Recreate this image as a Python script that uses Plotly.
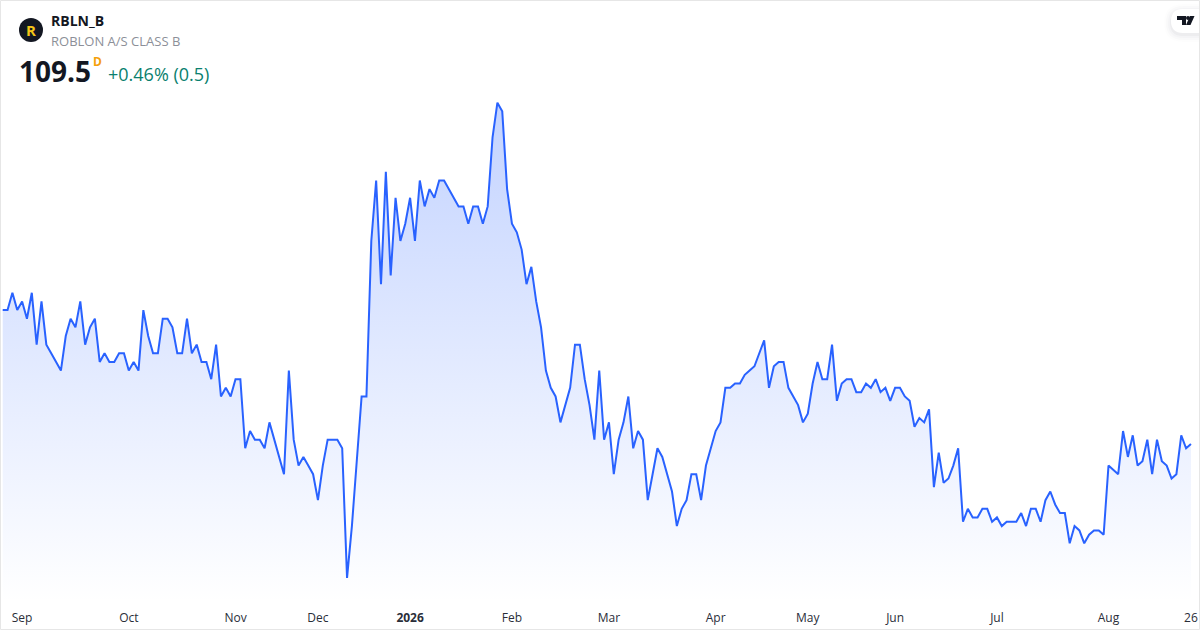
#!/usr/bin/env python3
"""RBLN_B daily close, TradingView-style mini chart."""

import plotly.graph_objects as go

W, H = 1200, 630
PLOT_H = 602  # pixels above the time-axis strip

# closes, one per trading bar, Sep 2025 to 26 Aug 2026
closes_2025_a = [125, 125, 127, 125, 126, 124, 127, 121, 126, 121, 120, 119, 118, 122, 124, 123,
                 126, 121, 123, 124, 119, 120, 119, 119, 120, 120, 118, 119, 118, 125, 122, 120,
                 120, 124, 124, 123, 120, 120, 124, 120, 121, 119, 119, 117, 121, 115, 116, 115,
                 117, 117, 109, 111, 110, 110, 109, 112, 110, 108, 106, 118, 110, 107, 108, 107,
                 106, 103, 107, 110, 110, 110, 109, 94, 100, 108, 115, 115]
closes_spike = [133, 140, 128, 141, 129, 138, 133, 135, 138, 133, 140, 137, 139, 138, 140, 140,
                139, 138, 137, 137, 135, 137, 137, 135, 137, 145, 149, 148, 139, 135, 134, 132,
                128, 130, 126, 123]
closes_spring = [118, 116, 115, 112, 114, 116, 121, 121, 117, 114, 110, 118, 110, 112, 106, 110,
                 112, 115, 109, 111, 110, 103, 106, 109, 108, 106, 104, 100, 102, 103, 106, 106,
                 103, 107, 109, 111, 112, 116, 116, 116.5, 116.5, 117.5, 118, 118.5, 120, 121.5,
                 116, 118.5, 119, 119, 116, 115, 114, 112, 113, 116.5, 119, 117, 117, 121, 114.5,
                 116.5, 117, 117]
closes_summer = [115.5, 115.5, 116.5, 116, 117, 115.5, 116, 114.5, 116, 116, 115, 114.5, 111.5,
                 112.5, 112, 113.5, 104.5, 108.5, 105, 105.5, 107, 109, 100.5, 102, 101, 101, 102,
                 102, 100.5, 101, 100, 100.5, 100.5, 100.5, 101.5, 100, 102, 102, 100.5, 103, 104,
                 102.5, 101.5, 101.5, 98, 100, 99.5, 98, 99, 99.5, 99.5, 99, 107, 106.5, 106, 111,
                 108, 110.5, 107, 107.5, 110, 106, 110, 107.5, 107, 105.5, 106, 110.5, 109, 109.5]
closes = closes_2025_a + closes_spike + closes_spring + closes_summer
bars = list(range(len(closes)))

tick_bars = [4, 26, 48, 65, 84, 105, 125, 147, 166, 184, 205, 228, 245]
tick_labels = ["Sep", "Oct", "Nov", "Dec", "<b>2026</b>", "Feb", "Mar", "Apr", "May", "Jun",
               "Jul", "Aug", "26"]

BLUE = "#2962FF"
INK = "#131722"


def px(x):
    return x / W


def py(y):
    return 1 - y / PLOT_H


def pill(x0, y0, x1, y1, r):
    """Tab stuck to the right edge, rounded on its left side."""
    return (f"M {px(x1)} {py(y0)} L {px(x0 + r)} {py(y0)} "
            f"Q {px(x0)} {py(y0)} {px(x0)} {py(y0 + r)} L {px(x0)} {py(y1 - r)} "
            f"Q {px(x0)} {py(y1)} {px(x0 + r)} {py(y1)} L {px(x1)} {py(y1)} Z")


def poly(points):
    return "M " + " L ".join(f"{px(x)} {py(y)}" for x, y in points) + " Z"


def label(x, y, text, size, color, family="Open Sans", anchor="left"):
    return dict(x=px(x), y=py(y), xref="paper", yref="paper", text=text, showarrow=False,
                xanchor=anchor, yanchor="middle", align="left",
                font=dict(family=family, size=size, color=color))


fig = go.Figure()
fig.add_trace(go.Scatter(
    x=bars, y=closes, mode="lines", line=dict(color=BLUE, width=2), fill="tozeroy",
    fillcolor="rgba(41,98,255,0.1)",
    fillgradient=dict(type="vertical", start=149, stop=91.2,
                      colorscale=[[0, "rgba(41,98,255,0.28)"], [1, "rgba(41,98,255,0)"]]),
    hoverinfo="x+y", showlegend=False))

shapes = [
    dict(type="circle", xref="paper", yref="paper", x0=px(19), x1=px(43), y0=py(42), y1=py(18),
         fillcolor="#131722", line_width=0),
]
for grow, alpha in [(7, 0.008), (5, 0.014), (3, 0.02), (1, 0.03)]:
    shapes.append(dict(type="path", xref="paper", yref="paper",
                       path=pill(1171 - grow, 9 - grow + 2, 1200, 33 + grow + 2, 12 + grow),
                       fillcolor=f"rgba(19,23,34,{alpha})", line_width=0))
shapes += [
    dict(type="path", xref="paper", yref="paper", path=pill(1171, 9, 1200, 33, 12),
         fillcolor="white", line_width=0),
    dict(type="path", xref="paper", yref="paper", fillcolor=INK, line_width=0,
         path=poly([(1177, 16), (1186, 16), (1186, 25), (1182, 25), (1182, 20), (1177, 20)])),
    dict(type="path", xref="paper", yref="paper", fillcolor=INK, line_width=0,
         path=poly([(1190, 16), (1194.5, 16), (1190.5, 25), (1186, 25)])),
    dict(type="circle", xref="paper", yref="paper", x0=px(1186), x1=px(1190), y0=py(20), y1=py(16),
         fillcolor=INK, line_width=0),
    # card outline
    dict(type="rect", xref="paper", yref="paper", x0=px(0.5), x1=px(W - 0.5), y0=py(H - 0.5),
         y1=py(0.5), line=dict(color="#E6E6E6", width=1)),
]

annotations = [
    label(31, 30, "<b>R</b>", 15, "#F5C518", anchor="center"),
    label(49, 21, "<b>RBLN_B</b>", 14, INK),
    label(49, 41, "ROBLON A/S CLASS B", 13, "#8C8F98"),
    label(17, 71, "<b>109.5</b>", 28, INK),
    label(91, 61.5, "<b>D</b>", 12, "#F59F0B"),
    label(106, 74, "+0.46% (0.5)", 18, "#0A7F6E"),
]

fig.update_layout(
    width=W, height=H, margin=dict(l=0, r=0, t=0, b=H - PLOT_H),
    paper_bgcolor="white", plot_bgcolor="white",
    xaxis=dict(range=[-2.7 / 4.85, (W - 2.7) / 4.85], tickmode="array", tickvals=tick_bars,
               ticktext=tick_labels, showgrid=False, zeroline=False, showline=False,
               ticks="outside", ticklen=5, tickcolor="rgba(0,0,0,0)", tickangle=0,
               tickfont=dict(family="Open Sans", size=12, color="#2A2E39")),
    yaxis=dict(range=[91.21, 160.89], visible=False, showgrid=False, zeroline=False),
    shapes=shapes, annotations=annotations, showlegend=False,
)

# the page's default body margin would push the card off by 8px
fig.write_html("out.html", config={"displayModeBar": False},
               post_script="document.body.style.margin = '0';")
